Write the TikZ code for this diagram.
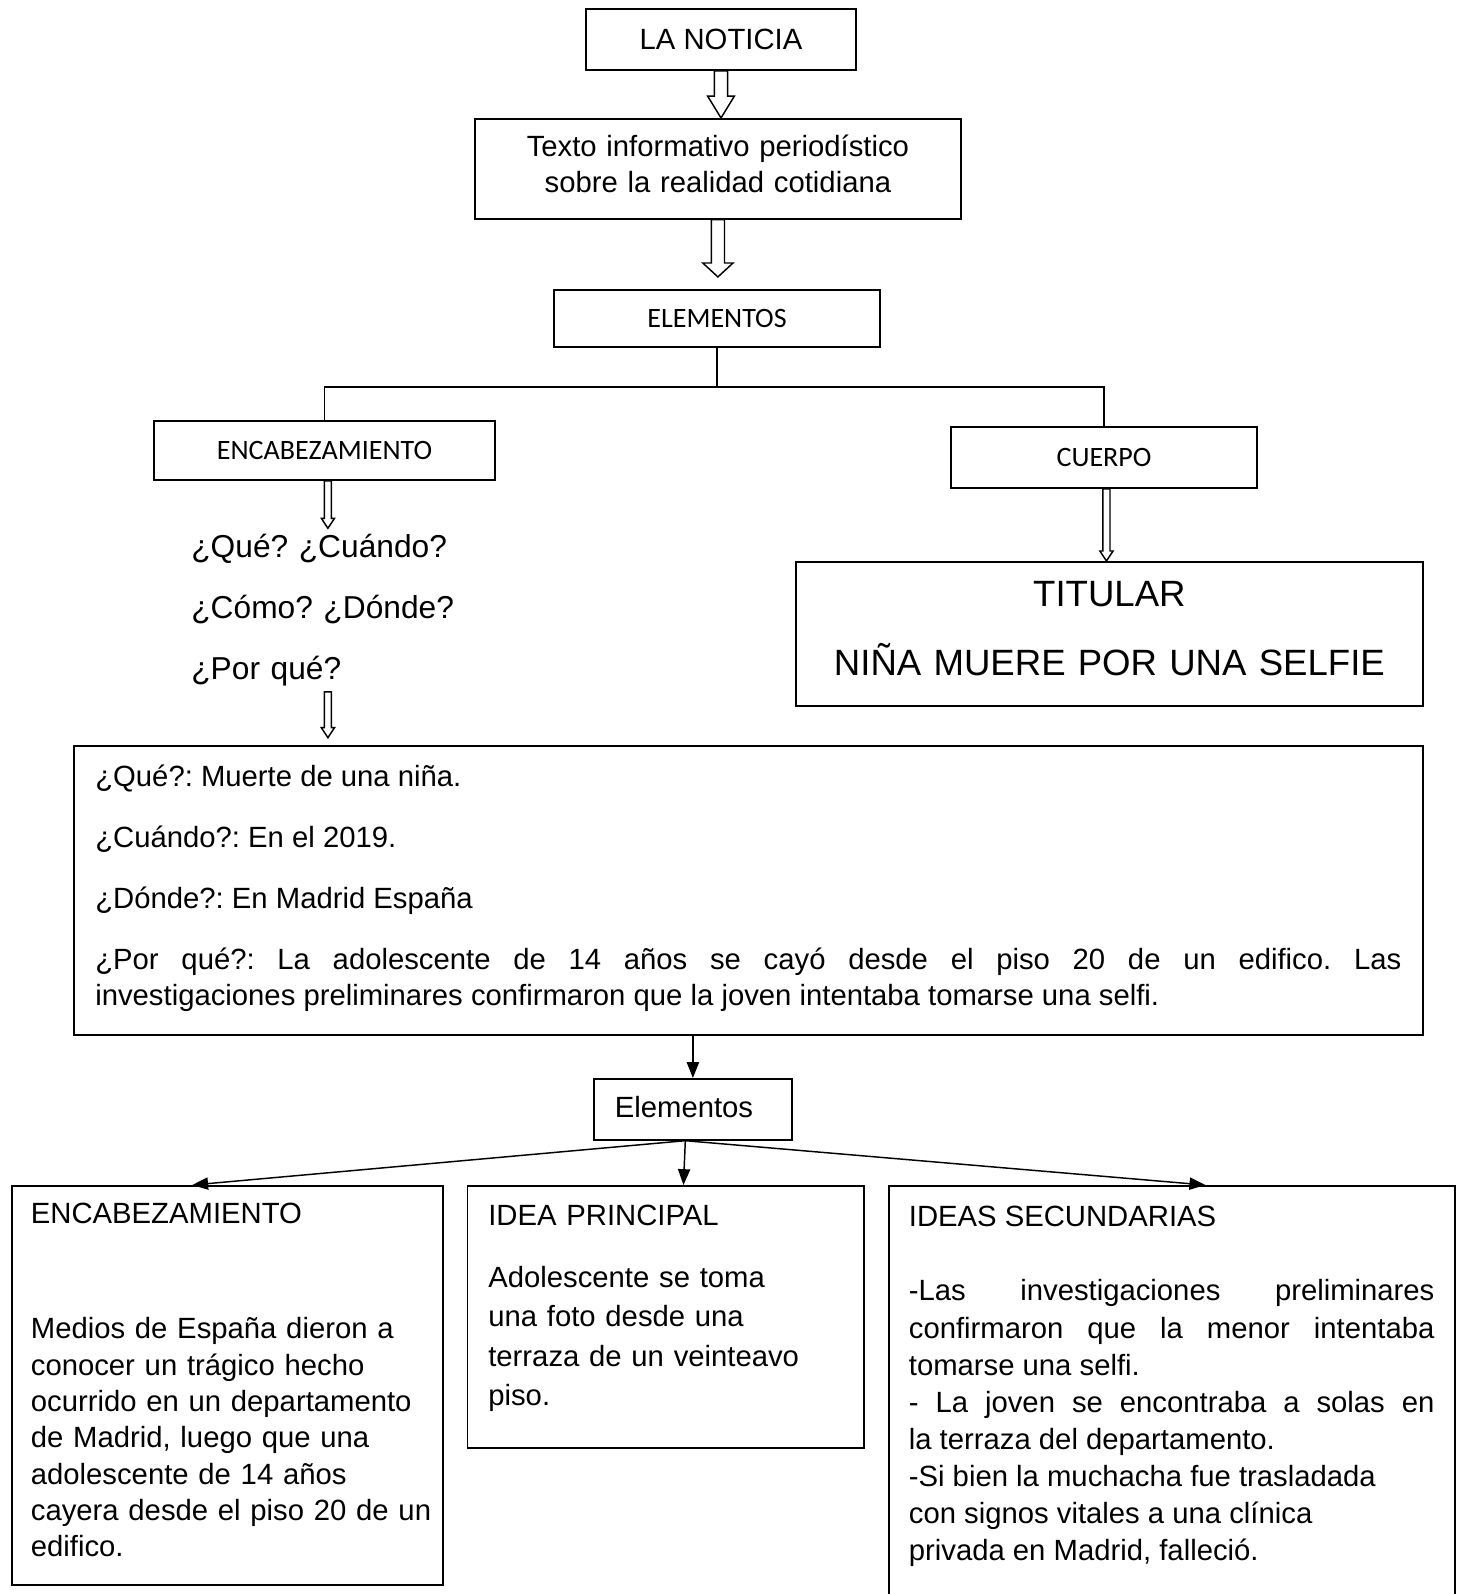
\documentclass[tikz,border=0pt]{standalone}
\usepackage{fontspec}
\setmainfont{Liberation Sans}
\newfontfamily\calibri{Carlito}
\usetikzlibrary{positioning, arrows.meta, calc}
\frenchspacing

\newcommand{\hollowarrow}[5]{%
  \draw[line width=.6pt] let \p1=(#1), \p2=(#2) in
    (\x1-#3,\y1) -- (\x1-#3,\y2+#5) -- (\x1-#4,\y2+#5) -- (\x1,\y2)
    -- (\x1+#4,\y2+#5) -- (\x1+#3,\y2+#5) -- (\x1+#3,\y1) -- cycle;}

\begin{document}
\begin{tikzpicture}[x=0.41pt, y=-0.41pt,
      box/.style={draw, line width=.7pt, inner sep=0pt, align=center,
        font=\fontsize{12}{14.8}\selectfont},
      tag/.style={box, font=\calibri\fontsize{11.5}{14}\selectfont},
      panel/.style={draw, line width=.7pt, inner sep=0pt, anchor=north west,
        font=\fontsize{12}{14.9}\selectfont},
      >={Triangle[length=6.5pt, width=5pt]}]
    \useasboundingbox (0,0) rectangle (1461,1594);
    \node[box, minimum width=110.7pt, minimum height=25pt] (noticia) at (721,39.5) {LA NOTICIA};
    \node[box, anchor=north west, text width=199.3pt, text height=15.6pt, text depth=25.4pt]
      (texto) at (474,118) {Texto informativo periodístico\\sobre la realidad cotidiana};
    \node[tag, minimum width=133.7pt, minimum height=23.4pt] (elem) at (717,318.5) {ELEMENTOS};
    \node[tag, minimum width=139.8pt, minimum height=24.2pt] (encab) at (324.5,450.5) {ENCABEZAMIENTO};
    \node[tag, minimum width=125.5pt, minimum height=25pt] (cuerpo) at (1104,457.5) {CUERPO};
    \coordinate (fork) at (717,387);
    \draw[line width=.6pt] (elem) -- (fork);
    \draw[line width=.6pt] (encab) |- (fork) -| (cuerpo);
    \node[anchor=base west, inner sep=2pt, text width=130pt, align=left,
      font=\fontsize{13}{25.2}\selectfont] (quest) at (186,557)
      {¿Qué? ¿Cuándo?\\¿Cómo? ¿Dónde?\\¿Por qué?};
    \node[box, anchor=north west, text width=257.1pt, text height=18.2pt, text depth=40.8pt,
      font=\fontsize{15}{28.3}\selectfont] (titular) at (795,561)
      {TITULAR\\NIÑA MUERE POR UNA SELFIE};
    \node[panel, text width=553.1pt, text height=16.8pt, text depth=101.7pt, align=justify,
      font=\fontsize{12}{14.76}\selectfont] (hechos) at (73,745)
      {\leftskip=8.8pt \rightskip=8.8pt \parskip=10.25pt
       ¿Qué?: Muerte de una niña.\par
       ¿Cuándo?: En el 2019.\par
       ¿Dónde?: En Madrid España\par
       ¿Por qué?: La adolescente de 14 años se cayó desde el piso 20 de un edifico. Las\linebreak
       investigaciones preliminares confirmaron que la joven intentaba tomarse una selfi.\par};
    \node[box, anchor=north west, text width=81.2pt, text height=16pt, text depth=9pt,
      align=left] (elementos) at (593,1078) {\leftskip=8.6pt Elementos\par};
    \node[panel, text width=176.7pt, text height=15.6pt, text depth=148pt, align=left] (encab2) at (11,1185)
      {\leftskip=7.8pt ENCABEZAMIENTO\\[32.2pt]
       Medios de España dieron a\\conocer un trágico hecho\\ocurrido en un departamento\\
       de Madrid, luego que una\\adolescente de 14 años\\cayera desde el piso 20 de un\\edifico.\par};
    \node[panel, text width=162.6pt, text height=16.4pt, text depth=91pt, align=left,
      font=\fontsize{12}{16.2}\selectfont] (idea) at (466.5,1185)
      {\leftskip=8.6pt IDEA PRINCIPAL\\[8.9pt]Adolescente se toma\\una foto desde una\\
       terraza de un veinteavo\\piso.\par};
    \node[panel, text width=232.1pt, text height=16.8pt, text depth=153.3pt, align=justify,
      font=\fontsize{12}{15.2}\selectfont] (ideas) at (888,1185)
      {\leftskip=8.2pt \rightskip=8.4pt IDEAS SECUNDARIAS\\[15.2pt]
       -Las investigaciones preliminares\linebreak
       confirmaron que la menor intentaba\linebreak
       tomarse una selfi.\\
       - La joven se encontraba a solas en\linebreak
       la terraza del departamento.\\
       -Si bien la muchacha fue trasladada\\
       con signos vitales a una clínica\\
       privada en Madrid, falleció.\par};
    \hollowarrow{noticia.south}{texto.north}{2.7pt}{5.5pt}{9pt}
    \hollowarrow{texto.south}{[yshift=5pt]elem.north}{2.7pt}{6.2pt}{5.7pt}
    \hollowarrow{[xshift=1.4pt]encab.south}{quest.north}{1.45pt}{2.7pt}{4.1pt}
    \hollowarrow{[xshift=1.4pt]encab.south |- quest.south}{[yshift=3pt]hechos.north}{1.45pt}{2.7pt}{4.1pt}
    \hollowarrow{[xshift=1pt]cuerpo.south}{titular.north}{1.45pt}{2.7pt}{4.1pt}
    \draw[->, line width=.6pt] (hechos.south -| elementos.north) -- (elementos.north);
    \foreach \b/\s in {encab2/-14.4pt, idea/7.3pt, ideas/13.7pt} {
      \draw[->, line width=.6pt] ([xshift=-3.1pt]elementos.south) -- ([xshift=\s]\b.north);
    }
  \end{tikzpicture}
\end{document}
